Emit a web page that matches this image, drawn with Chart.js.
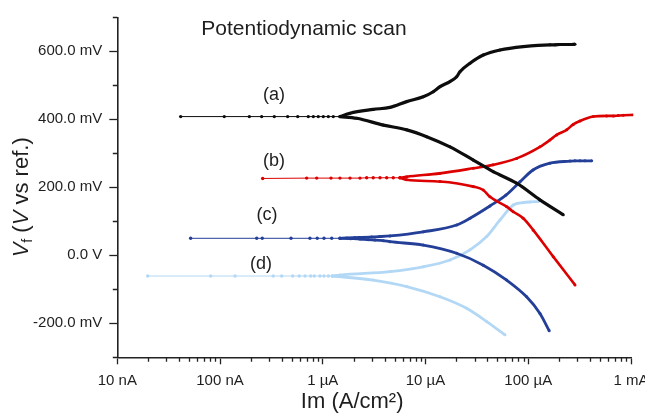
<!DOCTYPE html>
<html>
<head>
<meta charset="utf-8">
<script src="https://cdn.jsdelivr.net/npm/chart.js@4/dist/chart.umd.min.js"></script>
<style>
  html, body { margin: 0; padding: 0; background: #fff; }
  #wrap { width: 645px; height: 418px; position: relative; }
</style>
</head>
<body>
<div id="wrap"><canvas id="myChart"></canvas></div>
<script>
// current is stored as log10 of A/cm2, potential in mV

// axis ticks
var xTickValues = [1e-8, 1e-7, 1e-6, 1e-5, 1e-4, 1e-3];
var xTickLabels = ['10 nA', '100 nA', '1 µA', '10 µA', '100 µA', '1 mA'];
var yTickValues = [-200, 0, 200, 400, 600];
var yTickLabels = ['-200.0 mV', '0.0 V', '200.0 mV', '400.0 mV', '600.0 mV'];

var curveNames = ['(a)', '(b)', '(c)', '(d)'];

// (a) black
var aFlatI = [-7.383, -6.959, -6.715, -6.595, -6.472, -6.342, -6.244, -6.141, -6.092, -6.044, -5.995, -5.946, -5.898, -5.833];
var aFlatV = [408, 408, 408, 408, 408, 408, 408, 408, 408, 408, 408, 408, 408, 408];
var aUpI = [-5.833, -5.735, -5.509, -5.346, -5.183, -5.022, -4.925, -4.859, -4.762, -4.697, -4.665, -4.567, -4.438, -4.275, -4.049, -3.789, -3.740, -3.692, -3.643, -3.594, -3.545];
var aUpV = [408, 418, 429, 435, 452, 466, 481, 496, 511, 525, 540, 565, 589, 604, 614, 619, 619, 620, 620, 620, 621];
var aDownI = [-5.833, -5.670, -5.411, -5.183, -4.989, -4.762, -4.535, -4.341, -4.113, -3.886, -3.659];
var aDownV = [408, 403, 383, 369, 349, 319, 280, 246, 212, 163, 119];

// (b) red
var bFlatI = [-6.585, -6.157, -6.059, -5.920, -5.833, -5.735, -5.638, -5.573, -5.509, -5.443, -5.378, -5.314, -5.249];
var bFlatV = [226, 227, 227, 227, 227, 227, 227, 228, 228, 228, 228, 228, 228];
var bUpI = [-5.249, -5.183, -4.859, -4.535, -4.341, -4.113, -3.886, -3.789, -3.724, -3.626, -3.562, -3.497, -3.367, -3.237, -3.173, -3.124, -3.075, -2.978];
var bUpV = [228, 231, 241, 256, 266, 285, 319, 339, 354, 369, 385, 395, 408, 410, 410, 411, 412, 413];
var bDownI = [-5.249, -5.183, -4.859, -4.535, -4.438, -4.373, -4.210, -4.146, -4.049, -3.951, -3.757, -3.545];
var bDownV = [228, 222, 217, 202, 192, 172, 143, 128, 109, 74, -4, -87];

// (c) dark blue
var cFlatI = [-7.286, -6.643, -6.589, -6.309, -6.125, -6.054, -5.988, -5.913, -5.833];
var cFlatV = [50, 50, 50, 50, 50, 50, 50, 50, 50];
var cUpI = [-5.833, -5.767, -5.687, -5.599, -5.524, -5.450, -5.346, -5.022, -4.697, -4.567, -4.373, -4.217, -4.081, -3.954, -3.789, -3.594, -3.545, -3.497, -3.448, -3.383];
var cUpV = [50, 51, 52, 53, 54, 55, 57, 69, 89, 109, 145, 177, 216, 251, 271, 277, 278, 278, 278, 278];
var cDownI = [-5.833, -5.728, -5.638, -5.557, -5.492, -5.411, -5.346, -5.022, -4.697, -4.438, -4.210, -4.016, -3.886, -3.796];
var cDownV = [50, 49, 48, 46, 45, 43, 40, 30, 6, -29, -73, -122, -171, -222];

// (d) light blue
var dFlatI = [-7.704, -7.091, -6.854, -6.482, -6.400, -6.293, -6.229, -6.173, -6.118, -6.083, -6.027, -5.988, -5.946, -5.908];
var dFlatV = [-61, -61, -61, -61, -61, -61, -61, -61, -61, -61, -61, -61, -61, -61];
var dUpI = [-5.908, -5.833, -5.346, -5.022, -4.762, -4.567, -4.405, -4.275, -4.146, -4.049, -3.981, -3.903];
var dUpV = [-61, -58, -48, -34, -14, 16, 55, 104, 148, 155, 157, 158];
var dDownI = [-5.908, -5.509, -5.183, -4.859, -4.600, -4.405, -4.227];
var dDownV = [-61, -73, -92, -122, -156, -195, -234];

const FONT = '"Liberation Sans", Arial, Helvetica, sans-serif';
Chart.defaults.font.family = FONT;
Chart.defaults.color = '#1e1e1e';

function pts(logI, v) {
    return logI.map((l, i) => ({ x: Math.pow(10, l), y: v[i] }));
}

function curveSets(name, color, width, flatI, flatV, upI, upV, downI, downV) {
    var common = {
        showLine: true,
        borderColor: color,
        backgroundColor: color,
        pointBorderWidth: 0,
        pointHoverRadius: 0,
        cubicInterpolationMode: 'monotone',
        clip: false
    };
    return [
        Object.assign({ label: name + ' anodic', data: pts(upI, upV), borderWidth: width, pointRadius: 1.5 }, common),
        Object.assign({ label: name + ' cathodic', data: pts(downI, downV), borderWidth: width, pointRadius: 1.5 }, common),
        Object.assign({ label: name, data: pts(flatI, flatV), borderWidth: 1, pointRadius: 1.7 }, common)
    ];
}

function isDecade(v) {
    var l = Math.log10(v);
    return Math.abs(l - Math.round(l)) < 1e-9;
}

// shorter minor ticks, drawn outward from the axis lines
const minorTicks = {
    id: 'minorTicks',
    afterDraw(chart) {
        const { ctx, chartArea: ca, scales: { x, y } } = chart;
        ctx.save();
        ctx.strokeStyle = '#222';
        ctx.lineWidth = 1.3;
        ctx.beginPath();
        x.ticks.forEach(t => {
            if (t.major) return;
            const px = Math.round(x.getPixelForValue(t.value)) + 0.5;
            ctx.moveTo(px, ca.bottom);
            ctx.lineTo(px, ca.bottom + 4.5);
        });
        y.ticks.forEach(t => {
            if (t.major) return;
            const py = Math.round(y.getPixelForValue(t.value)) + 0.5;
            ctx.moveTo(ca.left, py);
            ctx.lineTo(ca.left - 4.5, py);
        });
        ctx.stroke();
        ctx.restore();
    }
};

const annotate = {
    id: 'annotate',
    afterDraw(chart) {
        const { ctx, chartArea: ca, scales: { x, y } } = chart;
        ctx.save();
        ctx.fillStyle = '#1e1e1e';
        ctx.textAlign = 'center';
        ctx.textBaseline = 'middle';

        ctx.font = '21px ' + FONT;
        ctx.fillText('Potentiodynamic scan', x.getPixelForValue(Math.pow(10, -6.183)), y.getPixelForValue(666));

        // curve labels at [log I, mV]
        var spots = [[-6.475, 470], [-6.475, 277], [-6.543, 117], [-6.601, -26]];
        ctx.font = '18px ' + FONT;
        curveNames.forEach((n, i) => {
            ctx.fillText(n, x.getPixelForValue(Math.pow(10, spots[i][0])), y.getPixelForValue(spots[i][1]));
        });

        // x title
        ctx.font = '22px ' + FONT;
        ctx.fillText('Im (A/cm²)', (ca.left + ca.right) / 2 - 22, ca.bottom + 45);

        // y title with subscript, rotated
        ctx.translate(28, (ca.top + ca.bottom) / 2 + 10);
        ctx.rotate(-Math.PI / 2);
        ctx.textAlign = 'left';
        ctx.textBaseline = 'alphabetic';
        var parts = [
            ['V', 'italic 22px ' + FONT, 0],
            ['f', '14px ' + FONT, 4],
            [' (', '22px ' + FONT, 0],
            ['V', 'italic 22px ' + FONT, 0],
            [' vs ref.)', '22px ' + FONT, 0]
        ];
        var total = 0;
        parts.forEach(p => { ctx.font = p[1]; total += ctx.measureText(p[0]).width; });
        var cx = -total / 2;
        parts.forEach(p => {
            ctx.font = p[1];
            ctx.fillText(p[0], cx, p[2]);
            cx += ctx.measureText(p[0]).width;
        });
        ctx.restore();
    }
};

var datasets = [].concat(
    curveSets('(a)', '#0d0d0d', 3.2, aFlatI, aFlatV, aUpI, aUpV, aDownI, aDownV),
    curveSets('(b)', '#dc0000', 2.6, bFlatI, bFlatV, bUpI, bUpV, bDownI, bDownV),
    curveSets('(c)', '#243f98', 2.8, cFlatI, cFlatV, cUpI, cUpV, cDownI, cDownV),
    curveSets('(d)', '#b3d8f5', 2.8, dFlatI, dFlatV, dUpI, dUpV, dDownI, dDownV)
);

const ctx = document.getElementById('myChart');
new Chart(ctx, {
    type: 'scatter',
    data: { datasets: datasets },
    plugins: [minorTicks, annotate],
    options: {
        responsive: true,
        maintainAspectRatio: false,
        animation: false,
        events: [],
        layout: { padding: { top: 17.3, right: 14, left: 0, bottom: 0 } },
        plugins: {
            legend: { display: false },
            tooltip: { enabled: false }
        },
        scales: {
            x: {
                type: 'logarithmic',
                min: 1e-8,
                max: 1e-3,
                afterBuildTicks: function (scale) {
                    var ticks = [];
                    xTickValues.forEach((v, i) => {
                        ticks.push({ value: v, major: true });
                        if (i < xTickValues.length - 1) {
                            for (var m = 2; m <= 9; m++) ticks.push({ value: v * m, major: false });
                        }
                    });
                    scale.ticks = ticks;
                },
                afterFit: function (scale) {
                    scale.height = 60.7;
                    scale.paddingLeft = 0;
                    scale.paddingRight = 0;
                },
                border: { display: true, color: '#222', width: 1.6 },
                grid: {
                    drawOnChartArea: false,
                    tickLength: 7,
                    tickWidth: 1.3,
                    tickColor: c => (c.tick && isDecade(c.tick.value)) ? '#222' : 'rgba(0,0,0,0)'
                },
                ticks: {
                    autoSkip: false,
                    maxRotation: 0,
                    padding: 8,
                    font: { size: 15 },
                    callback: function (value) {
                        var i = xTickValues.findIndex(v => Math.abs(Math.log10(v) - Math.log10(value)) < 1e-9);
                        return i >= 0 ? xTickLabels[i] : '';
                    }
                }
            },
            y: {
                type: 'linear',
                min: -300,
                max: 700,
                afterBuildTicks: function (scale) {
                    var ticks = [];
                    for (var v = -300; v <= 700; v += 100) {
                        ticks.push({ value: v, major: yTickValues.indexOf(v) >= 0 });
                    }
                    scale.ticks = ticks;
                },
                afterFit: function (scale) {
                    scale.width = 117.3;
                    scale.paddingTop = 0;
                    scale.paddingBottom = 0;
                },
                border: { display: true, color: '#222', width: 1.6 },
                grid: {
                    drawOnChartArea: false,
                    tickLength: 8,
                    tickWidth: 1.3,
                    tickColor: c => (c.tick && yTickValues.indexOf(c.tick.value) >= 0) ? '#222' : 'rgba(0,0,0,0)'
                },
                ticks: {
                    autoSkip: false,
                    padding: 7,
                    font: { size: 15 },
                    callback: function (value) {
                        var i = yTickValues.indexOf(value);
                        return i >= 0 ? yTickLabels[i] : '';
                    }
                }
            }
        }
    }
});
</script>
</body>
</html>
